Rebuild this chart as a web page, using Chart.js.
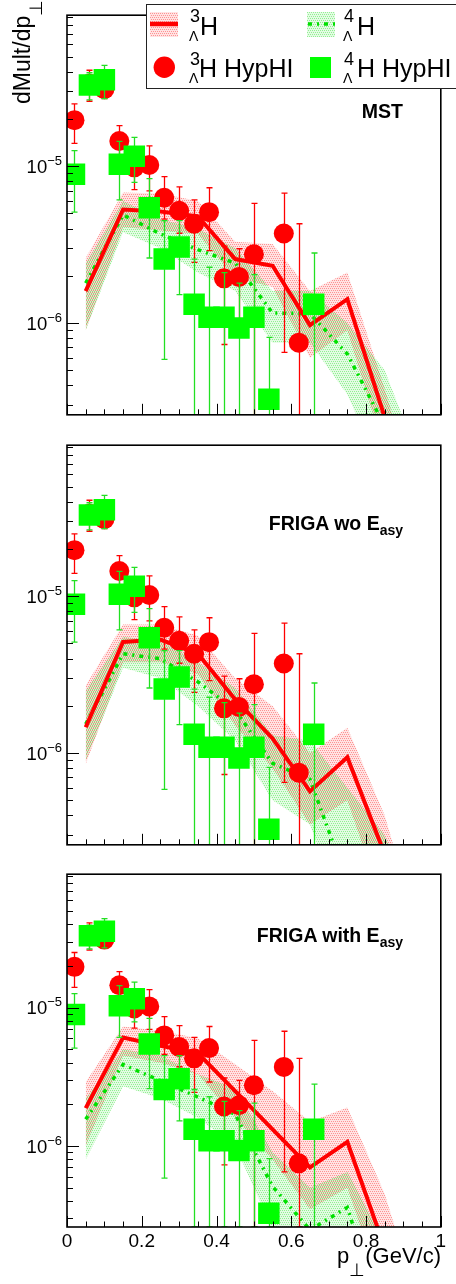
<!DOCTYPE html>
<html>
<head>
<meta charset="utf-8">
<script src="https://cdn.jsdelivr.net/npm/chart.js@4.4.1/dist/chart.umd.min.js"></script>
<style>
body { margin: 0; background: #fff; }
#wrap { position: relative; width: 456px; height: 1284px; overflow: hidden; background: #fff;
        font-family: 'Liberation Sans', Arial, sans-serif; color: #000; }
#wrap canvas { position: absolute; left: 0; }
.t { position: absolute; white-space: nowrap; line-height: 1; }
.b { font-weight: bold; }
</style>
</head>
<body>
<div id="wrap">
  <canvas id="c1" width="456" height="430" style="top:0"></canvas>
  <canvas id="c2" width="456" height="430" style="top:430px"></canvas>
  <canvas id="c3" width="456" height="425" style="top:859px"></canvas>

  <!-- axis titles -->
  <div class="t" style="left:10.5px; top:103.5px; font-size:23px; transform:rotate(-90deg); transform-origin:0 0;">dMult/dp<span style="font-size:18px; position:relative; top:12px;">⊥</span></div>
  <div class="t" style="right:15px; top:1244.7px; font-size:22px;">p<span style="font-size:18px; position:relative; top:13px;">⊥</span>(GeV/c)</div>

  <!-- panel labels -->
  <div class="t b" style="right:53px; top:101.5px; font-size:19.5px;">MST</div>
  <div class="t b" style="right:53px; top:513.8px; font-size:19.5px;">FRIGA wo E<span style="font-size:14px; position:relative; top:5px;">asy</span></div>
  <div class="t b" style="right:53px; top:925.5px; font-size:19.5px;">FRIGA with E<span style="font-size:14px; position:relative; top:5px;">asy</span></div>

  <!-- legend -->
  <div style="position:absolute; left:145.5px; top:4px; width:340px; height:83px; border:1.3px solid #222; background:#fff;"></div>
  <canvas id="sym1" width="30" height="26" style="left:149px; top:11px;"></canvas>
  <canvas id="sym2" width="30" height="26" style="left:306px; top:11px;"></canvas>
  <canvas id="sym3" width="24" height="24" style="left:152px; top:55px;"></canvas>
  <div style="position:absolute; left:310px; top:57.3px; width:20.5px; height:20.5px; background:#00ff00;"></div>

  <div class="t" style="left:190px; top:6.8px; font-size:18px;">3</div>
  <div class="t" style="left:189px; top:28.5px; font-size:14px;">Λ</div>
  <div class="t" style="left:200px; top:13.8px; font-size:25px;">H</div>
  <div class="t" style="left:344px; top:6.8px; font-size:18px;">4</div>
  <div class="t" style="left:343px; top:28.5px; font-size:14px;">Λ</div>
  <div class="t" style="left:357px; top:13.8px; font-size:25px;">H</div>

  <div class="t" style="left:190px; top:49.8px; font-size:18px;">3</div>
  <div class="t" style="left:189px; top:71.3px; font-size:14px;">Λ</div>
  <div class="t" style="left:199px; top:56.1px; font-size:25px;">H HypHI</div>
  <div class="t" style="left:344px; top:49.8px; font-size:18px;">4</div>
  <div class="t" style="left:343px; top:71.3px; font-size:14px;">Λ</div>
  <div class="t" style="left:357px; top:56.1px; font-size:25px;">H HypHI</div>
</div>

<script>
// axis ranges and ticks
const yMin = 2.6e-7, yMax = 9.2e-5;
const xTickValues = [0, 0.05, 0.1, 0.15, 0.2, 0.25, 0.3, 0.35, 0.4, 0.45, 0.5, 0.55, 0.6, 0.65, 0.7, 0.75, 0.8, 0.85, 0.9, 0.95, 1];
const xLabelValues = [0, 0.2, 0.4, 0.6, 0.8, 1];
const xTickLabels = ['0', '0.2', '0.4', '0.6', '0.8', '1'];
const yTickValues = [3e-7, 4e-7, 5e-7, 6e-7, 7e-7, 8e-7, 9e-7,
                     1e-6, 2e-6, 3e-6, 4e-6, 5e-6, 6e-6, 7e-6, 8e-6, 9e-6,
                     1e-5, 2e-5, 3e-5, 4e-5, 5e-5, 6e-5, 7e-5, 8e-5, 9e-5];
const yLabelValues = [1e-6, 1e-5];
const yTickExp = ['−6', '−5'];

// HypHI data, 3LambdaH
const h3X    = [0.02, 0.06, 0.10, 0.14, 0.18, 0.22, 0.26, 0.30, 0.34, 0.38, 0.42, 0.46, 0.50, 0.58, 0.62];
const h3Y    = [1.97e-5, 3.36e-5, 3.1e-5, 1.45e-5, 9.85e-6, 1.02e-5, 6.3e-6, 5.2e-6, 4.3e-6, 5.1e-6, 1.93e-6, 1.97e-6, 2.75e-6, 3.73e-6, 7.5e-7];
const h3YHi  = [2.5e-5, 4.1e-5, 3.5e-5, 1.82e-5, 1.3e-5, 1.35e-5, 8.6e-6, 7.4e-6, 6.1e-6, 7.3e-6, 3.1e-6, 2.98e-6, 5.8e-6, 6.75e-6, 4.3e-6];
const h3YLo  = [1.4e-5, 2.6e-5, 2.7e-5, 1.08e-5, 7.1e-6, 6.97e-6, 4.6e-6, 3.74e-6, 2.44e-6, 2.9e-6, 7.3e-7, 9.6e-7, 0, 6.5e-7, 0];

// HypHI data, 4LambdaH
const h4X    = [0.02, 0.06, 0.10, 0.14, 0.18, 0.22, 0.26, 0.30, 0.34, 0.38, 0.42, 0.46, 0.50, 0.54, 0.66];
const h4Y    = [8.9e-6, 3.3e-5, 3.56e-5, 1.03e-5, 1.16e-5, 5.45e-6, 2.56e-6, 3.06e-6, 1.32e-6, 1.09e-6, 1.09e-6, 9.3e-7, 1.09e-6, 3.27e-7, 1.32e-6];
const h4YHi  = [1.26e-5, 3.95e-5, 4.4e-5, 1.44e-5, 1.53e-5, 8.35e-6, 4.5e-6, 4.5e-6, 2.56e-6, 2.27e-6, 2.1e-6, 1.8e-6, 2.04e-6, 8.1e-7, 2.8e-6];
const h4YLo  = [5.1e-6, 2.65e-5, 2.7e-5, 6.1e-6, 7.9e-6, 2.6e-6, 5.86e-7, 1.52e-6, 0, 0, 0, 0, 0, 0, 0];

// model bins
const pModel = [0.05, 0.15, 0.25, 0.35, 0.45, 0.55, 0.65, 0.75, 0.85, 0.95];

// MST
const mstH3   = [1.6e-6, 5.3e-6, 5.15e-6, 4.8e-6, 2.56e-6, 2.32e-6, 9.7e-7, 1.42e-6, 2.5e-7, 3e-8];
const mstH3Hi = [2.6e-6, 6.8e-6, 6.7e-6, 6.0e-6, 3.3e-6, 3.2e-6, 1.6e-6, 2.1e-6, 3.8e-7, 6e-8];
const mstH3Lo = [9e-7, 4.1e-6, 3.9e-6, 3.7e-6, 1.95e-6, 1.7e-6, 6.0e-7, 9.0e-7, 1.5e-7, 1e-8];
const mstH4   = [1.8e-6, 4.9e-6, 3.7e-6, 2.94e-6, 2.41e-6, 1.16e-6, 1.15e-6, 6.35e-7, 2.2e-7, 2e-8];
const mstH4Hi = [2.4e-6, 6.0e-6, 4.6e-6, 4.0e-6, 3.0e-6, 1.6e-6, 1.6e-6, 1.0e-6, 5e-7, 1.2e-7];
const mstH4Lo = [9e-7, 3.8e-6, 3.0e-6, 2.1e-6, 1.6e-6, 7.5e-7, 7.5e-7, 3.5e-7, 1e-7, 1e-8];

// FRIGA without Easy
const woH3   = [1.46e-6, 5.12e-6, 5.3e-6, 4.3e-6, 2.2e-6, 1.24e-6, 5.7e-7, 9.4e-7, 2.26e-7, 3e-8];
const woH3Hi = [2.7e-6, 6.6e-6, 6.6e-6, 5.6e-6, 3.0e-6, 2.0e-6, 1.0e-6, 1.45e-6, 4.0e-7, 6e-8];
const woH3Lo = [8.5e-7, 3.8e-6, 3.8e-6, 3.2e-6, 1.5e-6, 8e-7, 3.5e-7, 5e-7, 1e-7, 1e-8];
const woH4   = [1.53e-6, 4.3e-6, 4.0e-6, 2.85e-6, 1.88e-6, 8.6e-7, 6.8e-7, 1.5e-7, 5e-8, 1e-8];
const woH4Hi = [2.5e-6, 5.5e-6, 5.2e-6, 3.8e-6, 2.6e-6, 1.3e-6, 1.2e-6, 6e-7, 3e-7, 8e-8];
const woH4Lo = [9e-7, 3.5e-6, 3.0e-6, 2.0e-6, 1.2e-6, 5e-7, 3.5e-7, 8e-8, 3e-8, 1e-8];

// FRIGA with Easy
const withH3   = [1.88e-6, 6.07e-6, 5.3e-6, 4.7e-6, 2.49e-6, 1.32e-6, 7.0e-7, 1.07e-6, 1.83e-7, 2e-8];
const withH3Hi = [2.9e-6, 7.3e-6, 6.8e-6, 6.0e-6, 3.9e-6, 2.5e-6, 1.5e-6, 1.9e-6, 4.5e-7, 6e-8];
const withH3Lo = [1.0e-6, 4.5e-6, 4.0e-6, 3.3e-6, 1.6e-6, 8e-7, 3.5e-7, 5e-7, 8e-8, 1e-8];
const withH4   = [1.56e-6, 3.88e-6, 2.96e-6, 2.26e-6, 1.69e-6, 5.1e-7, 2.48e-7, 3.6e-7, 5e-8, 1e-8];
const withH4Hi = [2.2e-6, 5.0e-6, 4.5e-6, 3.3e-6, 2.6e-6, 9e-7, 5e-7, 6.5e-7, 2e-7, 5e-8];
const withH4Lo = [8e-7, 2.7e-6, 2.2e-6, 1.6e-6, 1.0e-6, 2.5e-7, 1e-7, 1.5e-7, 2e-8, 1e-8];

const FONT = "'Liberation Sans', Arial, sans-serif";
Chart.defaults.font.family = FONT;
Chart.defaults.color = '#000';

// soft dotted fill: faint tint with slightly stronger dots
function dots(rgb, shifted) {
    const t = document.createElement('canvas');
    t.width = 4; t.height = 4;
    const g = t.getContext('2d');
    const img = g.createImageData(4, 4);
    const pts = shifted ? [[1,1],[3,1],[0,3],[2,3]] : [[0,0],[2,0],[1,2],[3,2]];
    for (let k = 0; k < 16; k++) {
        img.data[k * 4] = rgb[0]; img.data[k * 4 + 1] = rgb[1]; img.data[k * 4 + 2] = rgb[2];
        img.data[k * 4 + 3] = 28;
    }
    pts.forEach(p => { img.data[(p[1] * 4 + p[0]) * 4 + 3] = 110; });
    g.putImageData(img, 0, 0);
    return g.createPattern(t, 'repeat');
}
const redDots = dots([255, 0, 0], false);
const greenDots = dots([0, 220, 0], true);

const pair = (xs, ys) => xs.map((x, i) => ({ x: x, y: ys[i] }));

// error bars drawn just before their markers
const errorBars = {
    id: 'errorBars',
    beforeDatasetDraw(chart, args) {
        const ds = chart.data.datasets[args.index];
        if (!ds.errHigh) return;
        const { ctx, chartArea: a, scales: { x, y } } = chart;
        ctx.save();
        ctx.beginPath();
        ctx.rect(a.left, a.top, a.right - a.left, a.bottom - a.top);
        ctx.clip();
        ctx.strokeStyle = ds.errColor;
        ctx.lineWidth = 1.3;
        ctx.beginPath();
        ds.data.forEach((p, i) => {
            const px = Math.round(x.getPixelForValue(p.x)) + 0.5;
            const hi = y.getPixelForValue(ds.errHigh[i]);
            const lo = ds.errLow[i] > 0 ? y.getPixelForValue(ds.errLow[i]) : a.bottom;
            ctx.moveTo(px, hi); ctx.lineTo(px, lo);
            ctx.moveTo(px - 3, hi); ctx.lineTo(px + 3, hi);
            ctx.moveTo(px - 3, lo); ctx.lineTo(px + 3, lo);
        });
        ctx.stroke();
        ctx.restore();
    }
};

// frame, inward ticks and 10^n labels, ROOT style
const frameTicks = {
    id: 'frameTicks',
    afterDraw(chart) {
        const { ctx, chartArea: a, scales: { x, y } } = chart;
        ctx.save();
        ctx.strokeStyle = '#000';
        ctx.lineWidth = 1;
        ctx.beginPath();
        y.ticks.forEach(t => {
            const py = Math.round(y.getPixelForValue(t.value)) + 0.5;
            const len = yLabelValues.includes(t.value) ? 12 : 6;
            ctx.moveTo(a.left, py); ctx.lineTo(a.left + len, py);
        });
        x.ticks.forEach(t => {
            const px = Math.round(x.getPixelForValue(t.value)) + 0.5;
            const major = Math.abs(t.value * 5 - Math.round(t.value * 5)) < 1e-9;
            ctx.moveTo(px, a.bottom); ctx.lineTo(px, a.bottom - (major ? 11 : 5.5));
        });
        ctx.stroke();
        ctx.lineWidth = 1.6;
        ctx.strokeRect(a.left, a.top, a.right - a.left, a.bottom - a.top);

        ctx.fillStyle = '#000';
        ctx.textBaseline = 'alphabetic';
        yLabelValues.forEach((v, k) => {
            const py = y.getPixelForValue(v);
            ctx.textAlign = 'right';
            ctx.font = '13px ' + FONT;
            ctx.fillText(yTickExp[k], a.left - 5, py - 1.5);
            const ew = ctx.measureText(yTickExp[k]).width;
            ctx.font = '18.5px ' + FONT;
            ctx.fillText('10', a.left - 5 - ew, py + 6.6);
        });
        ctx.restore();
    }
};

function makePanel(id, padTop, padBottom, xHeight, showX, m) {
    const band = (vals, order, fill, bg) => ({
        data: pair(pModel, vals), borderWidth: 0, pointRadius: 0, fill: fill,
        backgroundColor: bg, order: order, clip: 0
    });
    const datasets = [
        band(m.h3Hi, 7, false, 'transparent'),
        band(m.h3Lo, 6, '-1', redDots),
        band(m.h4Hi, 5, false, 'transparent'),
        band(m.h4Lo, 4, '-1', greenDots),
        { data: pair(pModel, m.h3), borderColor: '#ff0000', borderWidth: 4, pointRadius: 0,
          fill: false, order: 2, clip: 0 },
        { data: pair(pModel, m.h4), borderColor: '#00e000', borderWidth: 3.5, borderDash: [4, 5, 2, 5],
          pointRadius: 0, fill: false, order: 3, clip: 0 },
        { data: pair(h3X, h3Y), showLine: false, pointStyle: 'circle', pointRadius: 10,
          pointBackgroundColor: '#ff0000', pointBorderWidth: 0, order: 1, clip: 0,
          errHigh: h3YHi, errLow: h3YLo, errColor: '#ff0000' },
        { data: pair(h4X, h4Y), showLine: false, pointStyle: 'rect', pointRadius: 15.2,
          pointBackgroundColor: '#00ff00', pointBorderWidth: 0, order: 0, clip: 0,
          errHigh: h4YHi, errLow: h4YLo, errColor: '#22e022' }
    ];
    return new Chart(document.getElementById(id), {
        type: 'line',
        data: { datasets: datasets },
        options: {
            responsive: false,
            animation: false,
            devicePixelRatio: 1,
            events: [],
            layout: { padding: { left: 0, right: 14, top: padTop, bottom: padBottom } },
            plugins: { legend: { display: false }, tooltip: { enabled: false } },
            elements: { line: { tension: 0 } },
            scales: {
                x: {
                    type: 'linear', min: 0, max: 1,
                    grid: { display: false, drawTicks: false },
                    border: { display: false },
                    afterBuildTicks: s => { s.ticks = xTickValues.map(v => ({ value: v })); },
                    afterFit: s => { s.height = xHeight; },
                    ticks: {
                        display: showX, autoSkip: false, maxRotation: 0, padding: 3,
                        font: { size: 19 }, color: '#000',
                        callback: v => {
                            const k = xLabelValues.findIndex(l => Math.abs(l - v) < 1e-9);
                            return k >= 0 ? xTickLabels[k] : '';
                        }
                    }
                },
                y: {
                    type: 'logarithmic', min: yMin, max: yMax,
                    grid: { display: false, drawTicks: false },
                    border: { display: false },
                    afterBuildTicks: s => { s.ticks = yTickValues.map(v => ({ value: v })); },
                    afterFit: s => { s.width = 67; },
                    ticks: { display: false }
                }
            }
        },
        plugins: [errorBars, frameTicks]
    });
}

makePanel('c1', 14, 2, 0, false,
    { h3: mstH3, h3Hi: mstH3Hi, h3Lo: mstH3Lo, h4: mstH4, h4Hi: mstH4Hi, h4Lo: mstH4Lo });
makePanel('c2', 1, 3, 0, false,
    { h3: woH3, h3Hi: woH3Hi, h3Lo: woH3Lo, h4: woH4, h4Hi: woH4Hi, h4Lo: woH4Lo });
makePanel('c3', 1, 0, 57, true,
    { h3: withH3, h3Hi: withH3Hi, h3Lo: withH3Lo, h4: withH4, h4Hi: withH4Hi, h4Lo: withH4Lo });

// legend symbols
(function () {
    let g = document.getElementById('sym1').getContext('2d');
    g.fillStyle = redDots; g.fillRect(1, 1, 28, 25);
    g.strokeStyle = '#ff0000'; g.lineWidth = 4.5;
    g.beginPath(); g.moveTo(1, 13); g.lineTo(29, 13); g.stroke();

    g = document.getElementById('sym2').getContext('2d');
    g.fillStyle = greenDots; g.fillRect(1, 1, 28, 25);
    g.strokeStyle = '#00e000'; g.lineWidth = 3.5; g.setLineDash([4, 5, 2, 5]);
    g.beginPath(); g.moveTo(2, 13); g.lineTo(29, 13); g.stroke();

    g = document.getElementById('sym3').getContext('2d');
    g.fillStyle = '#ff0000';
    g.beginPath(); g.arc(12.3, 12.3, 10.7, 0, Math.PI * 2); g.fill();
})();
</script>
</body>
</html>
